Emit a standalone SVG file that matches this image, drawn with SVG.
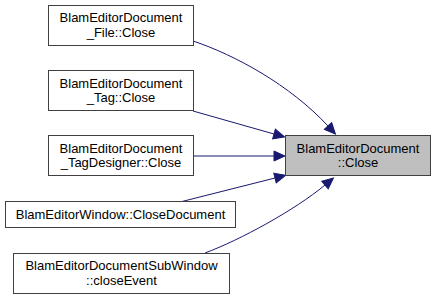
<svg xmlns="http://www.w3.org/2000/svg" width="436" height="300" viewBox="0 0 436 300">
<style>
.node rect{fill:#ffffff;stroke:#404040;stroke-width:1}
.node.hl rect{fill:#bfbfbf}
.node text{font-family:"Liberation Sans",Arial,sans-serif;font-size:13px;fill:#000;text-anchor:middle}
.edges path{fill:none;stroke:#191970;stroke-width:1}
</style>
<defs>
<marker id="arr" markerUnits="userSpaceOnUse" markerWidth="14" markerHeight="12" refX="0" refY="5" orient="auto" overflow="visible">
<polygon points="0,0 11,5 0,10" fill="#191970" stroke="#191970" stroke-width="1"/>
</marker>
</defs>
<rect width="436" height="300" fill="#ffffff"/>
<g class="edges">
<path d="M193,41 C235,55 290,85 328,126" marker-end="url(#arr)"/>
<path d="M193,111 L274,134" marker-end="url(#arr)"/>
<path d="M193,156 L274,156" marker-end="url(#arr)"/>
<path d="M180,202 L275,178" marker-end="url(#arr)"/>
<path d="M205,253 C240,240 295,210 325,185" marker-end="url(#arr)"/>
</g>
<g id="node_target" class="node hl">
<rect x="285.5" y="135.5" width="145" height="40"/>
<text x="358" y="152.5">BlamEditorDocument</text>
<text x="358" y="166.5">::Close</text>
</g>
<g id="node_file" class="node">
<rect x="48.5" y="5.5" width="145" height="40"/>
<text x="121" y="22">BlamEditorDocument</text>
<text x="121" y="36.5">_File::Close</text>
</g>
<g id="node_tag" class="node">
<rect x="48.5" y="70.5" width="145" height="40"/>
<text x="121" y="87.5">BlamEditorDocument</text>
<text x="121" y="102">_Tag::Close</text>
</g>
<g id="node_tagdesigner" class="node">
<rect x="48.5" y="135.5" width="145" height="40"/>
<text x="121" y="152.5">BlamEditorDocument</text>
<text x="121" y="167">_TagDesigner::Close</text>
</g>
<g id="node_window" class="node">
<rect x="5.5" y="201.5" width="230" height="26"/>
<text x="120.5" y="218.5">BlamEditorWindow::CloseDocument</text>
</g>
<g id="node_subwindow" class="node">
<rect x="13.5" y="253.5" width="216" height="40"/>
<text x="121.5" y="270">BlamEditorDocumentSubWindow</text>
<text x="121.5" y="284.5">::closeEvent</text>
</g>
</svg>
